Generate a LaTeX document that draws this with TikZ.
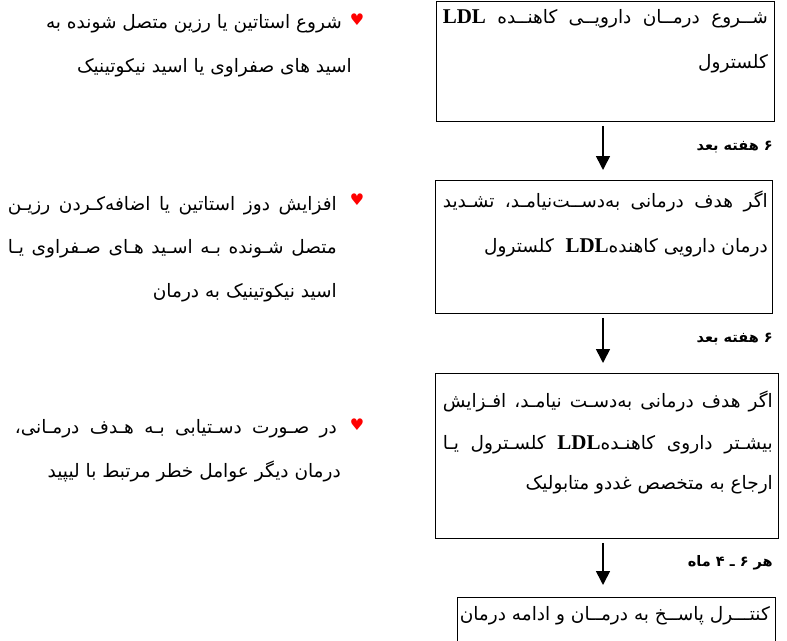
\documentclass[tikz,border=0pt]{standalone}
\usepackage{fontspec}
\setmainfont{Liberation Serif}
\newfontfamily\fa[Script=Arabic]{DejaVu Sans}
\newfontfamily\symfont{DejaVu Sans}
\TeXXeTstate=1
\usetikzlibrary{arrows.meta}
\newcommand\ldlmark{{\rmfamily\bfseries\fontsize{21}{22}\selectfont LDL}}
\begin{document}
\begin{tikzpicture}[x=1pt,y=-1pt,
  box/.style={draw,line width=0.9pt,inner sep=0pt,anchor=north west},
  ln/.style={anchor=base east,inner sep=0pt,font=\fa\fontsize{18.5}{20}\selectfont},
  lab/.style={anchor=base east,inner sep=0pt,font=\fa\bfseries\fontsize{14.5}{16}\selectfont},
  heart/.style={text=red,font=\symfont\fontsize{16}{16}\selectfont,inner sep=0pt},
  flow/.style={line width=1.6pt,-{Triangle[width=14pt,length=14pt]}}]
\useasboundingbox (0,0) rectangle (787,640);
\clip (0,0) rectangle (787,640);
% boxes
\node[box,minimum width=338pt,minimum height=120pt] (b1) at (436,1) {};
\node[box,minimum width=337pt,minimum height=133pt] (b2) at (435,180) {};
\node[box,minimum width=343pt,minimum height=165pt] (b3) at (435,373) {};
\node[box,minimum width=318pt,minimum height=70pt] (b4) at (457,597) {};
\coordinate (ax) at (603,0);
% arrows
\draw[flow,shorten <=4pt,shorten >=10pt] (b1.south -| ax) -- (b2.north -| ax);
\draw[flow,shorten <=4pt,shorten >=10pt] (b2.south -| ax) -- (b3.north -| ax);
\draw[flow,shorten <=4pt,shorten >=12pt] (b3.south -| ax) -- (b4.north -| ax);
% arrow labels
\node[lab] (l1) at (773,150) {\beginR ۶ هفته بعد\endR};
\node[lab] (l2) at (773,342) {\beginR ۶ هفته بعد\endR};
\node[lab] (l3) at (773,566) {\beginR هر ۶ ـ ۴ ماه\endR};
% box texts
\node[ln] (t11) at (768,23) {\hbox to 325pt{\beginR شــروع درمــان دارویــی کاهنــده \ldlmark\endR}};
\node[ln] (t12) at (768,68) {\beginR کلسترول\endR};
\node[ln] (t21) at (768,207) {\hbox to 325pt{\beginR اگر هدف درمانی به‌دســت‌نیامـد، تشـدید\endR}};
\node[ln] (t22) at (768,252) {\beginR درمان دارویی کاهنده\ldlmark\ \ کلسترول\endR};
\node[ln] (t31) at (773,407) {\hbox to 330pt{\beginR اگر هدف درمانی به‌دسـت نیامـد، افـزایش\endR}};
\node[ln] (t32) at (773,449) {\hbox to 330pt{\beginR بیشـتر داروی کاهنـده\ldlmark\ کلسـترول یـا\endR}};
\node[ln] (t33) at (773,489) {\beginR ارجاع به متخصص غددو متابولیک\endR};
\node[ln] (t41) at (770,620) {\beginR کنتـــرل پاســخ به درمــان و ادامه درمان\endR};
% left texts
\node[heart] (h1) at (357,20) {♥};
\node[ln] (s11) at (342,28) {\beginR شروع استاتین یا رزین متصل شونده به\endR};
\node[ln] (s12) at (352,72) {\beginR اسید های صفراوی یا اسید نیکوتینیک\endR};
\node[heart] (h2) at (357,200) {♥};
\node[ln] (s21) at (337,210) {\hbox to 329pt{\beginR افزایش دوز استاتین یا اضافه‌کـردن رزیـن\endR}};
\node[ln] (s22) at (337,253) {\hbox to 329pt{\beginR متصل شـونده بـه اسـید هـای صـفراوی یـا\endR}};
\node[ln] (s23) at (337,297) {\beginR اسید نیکوتینیک به درمان\endR};
\node[heart] (h3) at (357,425) {♥};
\node[ln] (s31) at (337,433) {\hbox to 322pt{\beginR در صـورت دسـتیابی بـه هـدف درمـانی،\endR}};
\node[ln] (s32) at (341,477) {\beginR درمان دیگر عوامل خطر مرتبط با لیپید\endR};
\end{tikzpicture}
\end{document}
